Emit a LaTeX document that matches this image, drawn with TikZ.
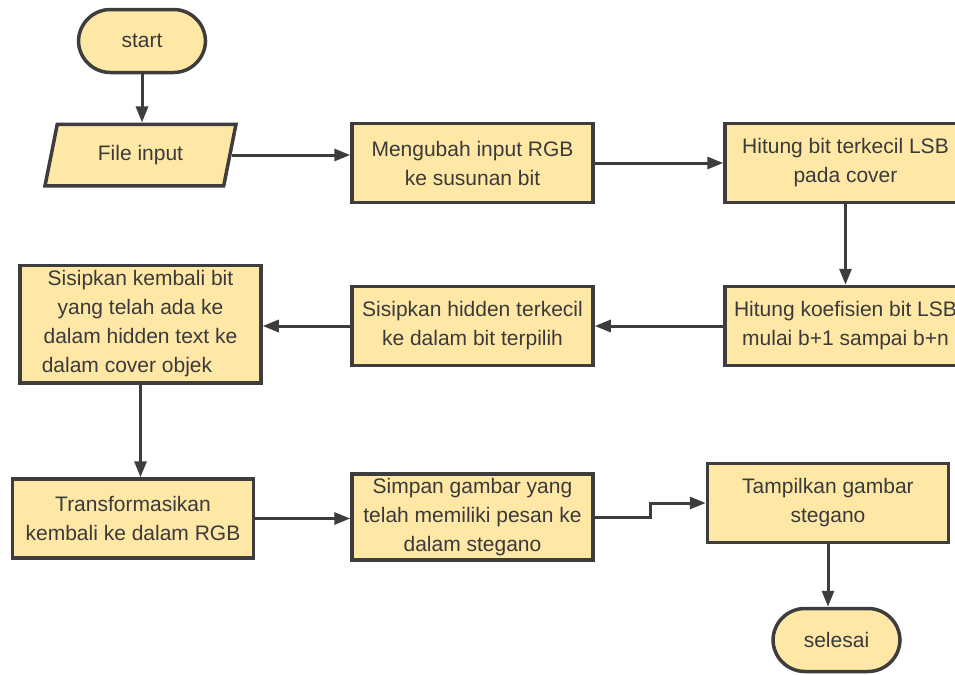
\documentclass[tikz,border=0pt]{standalone}
\usepackage{fontspec}
\setmainfont{Liberation Sans}
\usepackage{tikz}
\usetikzlibrary{shapes.geometric,arrows.meta}
\definecolor{boxfill}{HTML}{FFE8A6}
\definecolor{boxline}{HTML}{3D3D3D}
\definecolor{boxtext}{HTML}{3A3A3A}

\begin{document}
\begin{tikzpicture}[x=0.5pt, y=-0.5pt,
    every node/.style={draw=boxline, fill=boxfill, line width=1.75pt, text=boxtext,
        align=center, font=\fontsize{10.5}{14.5}\selectfont, inner sep=2pt},
    process/.style={rectangle, minimum width=120.5pt, minimum height=39.5pt},
    terminal/.style={rectangle, rounded corners=16pt, minimum width=63.5pt, minimum height=31.5pt},
    io/.style={trapezium, trapezium left angle=76, trapezium right angle=104,
        trapezium stretches=true, minimum width=96pt, minimum height=30.75pt},
    arrow/.style={draw=boxline, line width=1.5pt, -{Triangle[length=8pt,width=6pt]}}]
                    \useasboundingbox (0,0) rectangle (955,675);
                    % Nodes
                    \node[terminal] (start) at (142,41) {start};
                    \node[io] (input) at (140.5,155) {File input};
                    \node[process] (rgb) at (472.5,163) {Mengubah input RGB\\ke susunan bit};
                    \node[process] (lsb) at (845.5,163) {Hitung bit terkecil LSB\\pada cover};
                    \node[process] (koef) at (845.5,326) {Hitung koefisien bit LSB\\mulai b+1 sampai b+n};
                    \node[process] (hidden) at (472.5,326) {Sisipkan hidden terkecil\\ke dalam bit terpilih};
                    \node[process, minimum height=58.75pt] (kembali) at (140.5,324)
                        {Sisipkan kembali bit\\yang telah ada ke\\dalam hidden text ke\\dalam cover objek\hspace*{13.5pt}};
                    \node[process] (trans) at (133,518.5) {Transformasikan\\kembali ke dalam RGB};
                    \node[process, minimum height=41.25pt] (simpan) at (472.5,517)
                        {Simpan gambar yang\\telah memiliki pesan ke\\dalam stegano};
                    \node[process] (tampil) at (828,503) {Tampilkan gambar\\stegano};
                    \node[terminal] (selesai) at (836.5,640) {selesai};
                    % Edges
                    \draw[arrow] (start.south) -- (start.south |- input.north);
                    \draw[arrow] (input.east) -- (input.east -| rgb.west);
                    \draw[arrow] (rgb) -- (lsb);
                    \draw[arrow] (lsb) -- (koef);
                    \draw[arrow] (koef) -- (hidden);
                    \draw[arrow] (hidden.west) -- (hidden.west -| kembali.east);
                    \draw[arrow] (kembali.south) -- (kembali.south |- trans.north);
                    \draw[arrow] (trans.east) -- (trans.east -| simpan.west);
                    \draw[arrow] (simpan.east) -- ++(56,0) |- (tampil.west);
                    \draw[arrow] (tampil.south) -- (tampil.south |- selesai.north);
                \end{tikzpicture}
\end{document}
